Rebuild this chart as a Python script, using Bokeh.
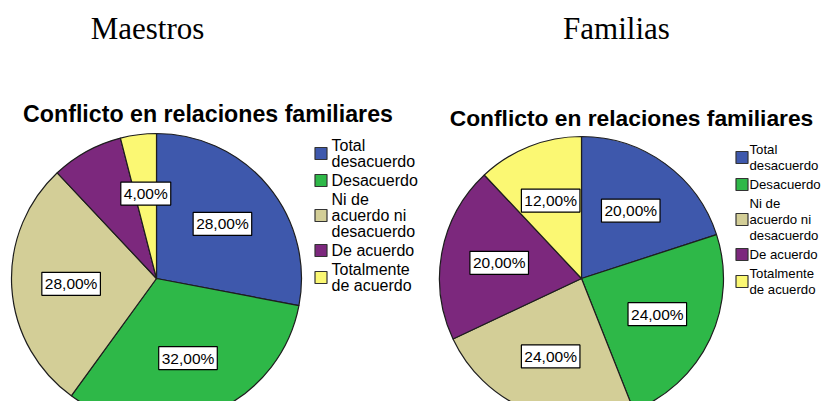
import math
from bokeh.plotting import figure
from bokeh.models import Range1d, ColumnDataSource
from bokeh.core.properties import value
from bokeh.embed import file_html
from bokeh.resources import INLINE

# ---------------- data ----------------
categories = ["Total\ndesacuerdo", "Desacuerdo", "Ni de\nacuerdo ni\ndesacuerdo",
              "De acuerdo", "Totalmente\nde acuerdo"]
colors = ["#3E58AC", "#2EB848", "#D3CE97", "#7C287D", "#FBF873"]
maestros_values = [28, 32, 28, 8, 4]
maestros_label_shown = [True, True, True, False, True]
familias_values = [20, 24, 24, 20, 12]
familias_label_shown = [True, True, True, True, True]
group_titles = ["Maestros", "Familias"]
chart_title = "Conflicto en relaciones familiares"

SANS = "Liberation Sans"
SERIF = "Liberation Serif"
W, H = 822, 401

p = figure(width=W, height=H, x_range=Range1d(0, W), y_range=Range1d(-H, 0),
           x_axis_type=None, y_axis_type=None, toolbar_location=None,
           output_backend="svg", min_border=0, outline_line_color=None)
p.min_border_left = p.min_border_right = 0
p.min_border_top = p.min_border_bottom = 0
p.background_fill_color = "white"
p.border_fill_color = "white"


def fmt(v):
    return ("%.2f" % v).replace(".", ",") + "%"


def panel(values, shown, gtitle, gcx, cx, cy, r, tcx, tcy, tsize,
          sqx, lx, ly0, lsize):
    total = float(sum(values))
    starts, ends, lxs, lys, ltx = [], [], [], [], []
    cum = 0.0
    for v, s in zip(values, shown):
        a0 = math.pi / 2 - 2 * math.pi * (cum + v) / total
        a1 = math.pi / 2 - 2 * math.pi * cum / total
        starts.append(a0)
        ends.append(a1)
        mid = (a0 + a1) / 2
        if s:
            lxs.append(cx + 0.59 * r * math.cos(mid))
            lys.append(-cy + 0.59 * r * math.sin(mid))
            ltx.append(fmt(v))
        cum += v
    src = ColumnDataSource(dict(start=starts, end=ends, color=colors))
    p.wedge(x=cx, y=-cy, radius=r, start_angle="start", end_angle="end",
            fill_color="color", line_color="#1e1e1e", line_width=1.2,
            source=src)

    p.text(x=lxs, y=lys, text=ltx, text_font=value(SANS),
           text_font_size="15.5px", text_align="center",
           text_baseline="middle", text_color="black",
           background_fill_color="white", border_line_color="black",
           border_line_width=1.2, padding=3)

    # group title
    p.text(x=[gcx], y=[-27.5], text=[gtitle], text_font=value(SERIF),
           text_font_size="31px", text_align="center",
           text_baseline="middle", text_color="black")
    # chart title
    p.text(x=[tcx], y=[-tcy], text=[chart_title], text_font=value(SANS),
           text_font_size=tsize, text_font_style="bold", text_align="center",
           text_baseline="middle", text_color="black")

    # legend
    y = ly0
    tx, ty, tt = [], [], []
    sq_y = []
    for cat in categories:
        lines = cat.split("\n")
        ys = []
        for ln in lines:
            tx.append(lx)
            ty.append(-y)
            tt.append(ln)
            ys.append(y)
            y += 16
        y += 3
        sq_y.append(-sum(ys) / len(ys))
    p.rect(x=[sqx] * len(categories), y=sq_y, width=12, height=12,
           fill_color=colors, line_color="#333333", line_width=1.2)
    p.text(x=tx, y=ty, text=tt, text_font=value(SANS), text_font_size=lsize,
           text_align="left", text_baseline="middle", text_color="black")


panel(maestros_values, maestros_label_shown, group_titles[0],
      147, 156, 278, 145, 207.5, 113, "23.2px", 320.5, 331, 145, "16px")
panel(familias_values, familias_label_shown, group_titles[1],
      616, 581, 278, 142, 631, 117, "22.8px", 741.5, 749, 149, "13.2px")

open("out.html", "w").write(file_html(p, INLINE))
